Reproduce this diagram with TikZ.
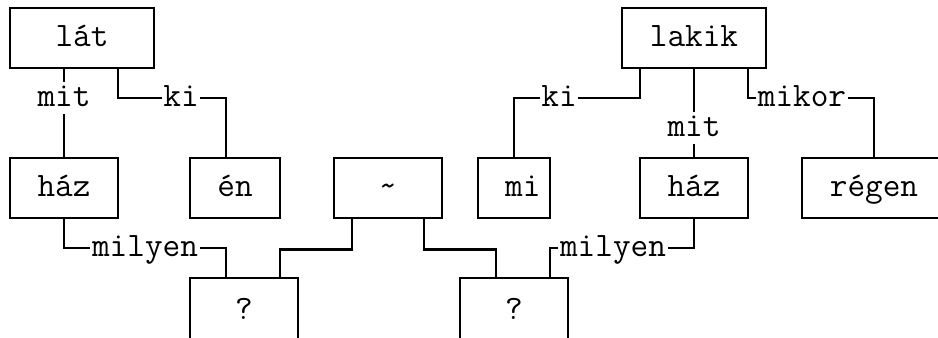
\documentclass[tikz,border=0pt]{standalone}
\begin{document}
\begin{tikzpicture}
    [x=13.5pt, y=-22.5pt, line width=2pt, font=\ttfamily\fontsize{25.7}{30}\selectfont,
     box/.style={draw, inner sep=0pt, minimum width=#1*13.5pt, minimum height=45pt, text height=14pt, text depth=2pt},
     lbl/.style={inner sep=0pt, minimum width=#1*13.5pt, minimum height=22.5pt, text height=14pt, text depth=2pt}]
    \clip (-0.5556,-0.2667) rectangle (51.5556,10.9667);

    % words
    \node[box=8] (lat) at (4,1) {lát};
    \node[box=8] (lakik) at (38,1) {lakik};
    \node[box=6] (haz1) at (3,6) {ház};
    \node[box=5] (en) at (12.5,6) {én};
    \node[box=6] (tilde) at (21,6) {\textasciitilde};
    \node[box=4] (mi) at (28,6) {\hphantom{m}mi};
    \node[box=6] (haz2) at (38,6) {ház};
    \node[box=8] (regen) at (48,6) {régen};
    \node[box=6, minimum height=49.5pt] (q1) at (13,10.1) {?};
    \node[box=6, minimum height=49.5pt] (q2) at (28,10.1) {?};

    % roles
    \node[lbl=3] (mit1) at (3,3) {mit};
    \node[lbl=2] (ki1) at (9.5,3) {ki};
    \node[lbl=6] (milyen1) at (7.5,8) {milyen};
    \node[lbl=2] (ki2) at (30.5,3) {ki};
    \node[lbl=3] (mit2) at (38,4) {mit};
    \node[lbl=5] (mikor) at (44,3) {mikor};
    \node[lbl=6] (milyen2) at (33.5,8) {milyen};

    \draw (lat.south -| mit1) -- (mit1.north) (mit1.south) -- (haz1.north -| mit1);
    \draw (lat.south -| 6,0) |- (ki1.west) (ki1.east) -| (en.north -| 12,0);
    \draw (haz1.south) |- (milyen1.west) (milyen1.east) -| (q1.north -| 12,0);
    \draw (tilde.south -| 19,0) -- ++(0,1) -| (q1.north -| 15,0);
    \draw (tilde.south -| 23,0) -- ++(0,1) -| (q2.north -| 27,0);
    \draw (haz2.south) |- (milyen2.east) (milyen2.west) -| (q2.north -| 30,0);
    \draw (lakik.south -| 35,0) |- (ki2.east) (ki2.west) -| (mi.north);
    \draw (lakik.south -| mit2) -- (mit2.north) (mit2.south) -- (haz2.north);
    \draw (lakik.south -| 41,0) |- (mikor.west) (mikor.east) -| (regen.north);
\end{tikzpicture}
\end{document}
